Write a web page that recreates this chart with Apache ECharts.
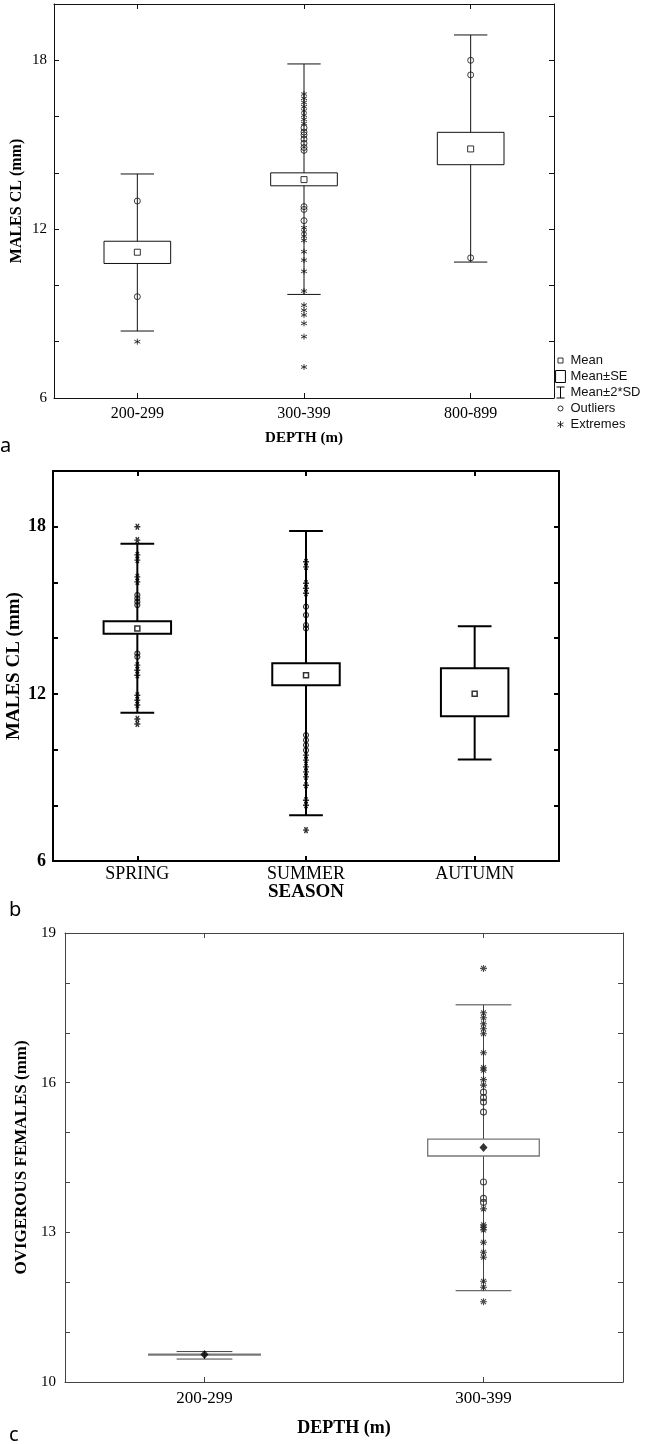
<!DOCTYPE html>
<html>
<head>
<meta charset="utf-8">
<title>Males CL by depth and season, ovigerous females by depth</title>
<script src="https://cdn.jsdelivr.net/npm/echarts@6/dist/echarts.min.js"></script>
<style>
  html, body { margin: 0; padding: 0; background: #fff; }
  #chart { width: 647px; height: 1444px; }
</style>
</head>
<body>
<div id="chart"></div>
<script>
// ---- a: males CL by depth
const depthCatsA = ['200-299', '300-399', '800-899'];
const meanA   = [11.18, 13.76, 14.85];
const seLowA  = [10.78, 13.54, 14.29];
const seHighA = [11.57, 14.00, 15.44];
const sdLowA  = [8.38, 9.68, 10.83];
const sdHighA = [13.96, 17.87, 18.90];
const outliersA = [
  ['200-299', 13.0], ['200-299', 9.6],
  ['300-399', 15.6], ['300-399', 15.45], ['300-399', 15.35], ['300-399', 15.2],
  ['300-399', 15.05], ['300-399', 14.9], ['300-399', 14.8],
  ['300-399', 12.8], ['300-399', 12.7], ['300-399', 12.3],
  ['800-899', 18.0], ['800-899', 17.48], ['800-899', 10.98]
];
const extremesA = [
  ['200-299', 8.0],
  ['300-399', 16.8], ['300-399', 16.65], ['300-399', 16.5], ['300-399', 16.35],
  ['300-399', 16.2], ['300-399', 16.05], ['300-399', 15.9], ['300-399', 15.75],
  ['300-399', 12.05], ['300-399', 11.9], ['300-399', 11.75], ['300-399', 11.6],
  ['300-399', 11.2], ['300-399', 10.9], ['300-399', 10.5], ['300-399', 9.8],
  ['300-399', 9.3], ['300-399', 9.12], ['300-399', 8.95], ['300-399', 8.65],
  ['300-399', 8.18], ['300-399', 7.1]
];

// ---- b: males CL by season
const seasonCats = ['SPRING', 'SUMMER', 'AUTUMN'];
const meanB   = [14.35, 12.67, 12.0];
const seLowB  = [14.16, 12.31, 11.2];
const seHighB = [14.61, 13.1, 12.92];
const sdLowB  = [11.32, 7.64, 9.64];
const sdHighB = [17.39, 17.85, 14.43];
const outliersB = [
  ['SPRING', 15.55], ['SPRING', 15.43], ['SPRING', 15.31], ['SPRING', 15.19],
  ['SPRING', 13.45], ['SPRING', 13.33],
  ['SUMMER', 15.13], ['SUMMER', 14.83], ['SUMMER', 14.47], ['SUMMER', 14.35],
  ['SUMMER', 10.52], ['SUMMER', 10.34], ['SUMMER', 10.16], ['SUMMER', 9.98]
];
const extremesB = [
  ['SPRING', 18.0], ['SPRING', 17.52], ['SPRING', 16.99], ['SPRING', 16.8],
  ['SPRING', 16.2], ['SPRING', 16.02], ['SPRING', 13.03], ['SPRING', 12.85],
  ['SPRING', 12.67], ['SPRING', 11.95], ['SPRING', 11.77], ['SPRING', 11.6],
  ['SPRING', 11.1], ['SPRING', 10.92],
  ['SUMMER', 16.74], ['SUMMER', 16.56], ['SUMMER', 15.97], ['SUMMER', 15.79],
  ['SUMMER', 15.61], ['SUMMER', 9.8], ['SUMMER', 9.62], ['SUMMER', 9.38],
  ['SUMMER', 9.2], ['SUMMER', 9.02], ['SUMMER', 8.72], ['SUMMER', 8.18],
  ['SUMMER', 8.0], ['SUMMER', 7.11]
];

// ---- c: ovigerous females by depth
const depthCatsC = ['200-299', '300-399'];
const meanC   = [10.55, 14.7];
const seLowC  = [10.54, 14.53];
const seHighC = [10.56, 14.87];
const sdLowC  = [10.46, 11.83];
const sdHighC = [10.61, 17.56];
const outliersC = [
  ['300-399', 15.81], ['300-399', 15.7], ['300-399', 15.61], ['300-399', 15.41],
  ['300-399', 14.01], ['300-399', 13.68], ['300-399', 13.6]
];
const extremesC = [
  ['300-399', 18.29], ['300-399', 17.4], ['300-399', 17.3], ['300-399', 17.18],
  ['300-399', 17.08], ['300-399', 16.98], ['300-399', 16.6], ['300-399', 16.3],
  ['300-399', 16.25], ['300-399', 16.06], ['300-399', 15.95],
  ['300-399', 13.47], ['300-399', 13.15], ['300-399', 13.1], ['300-399', 13.05],
  ['300-399', 12.8], ['300-399', 12.6], ['300-399', 12.5], ['300-399', 12.02],
  ['300-399', 11.9], ['300-399', 11.61]
];

const SERIF = 'Liberation Serif';
const STAR6 = 'path://M5,0 L5,10 M0.67,2.5 L9.33,7.5 M9.33,2.5 L0.67,7.5';
const STAR6H = 'path://M0,5 L10,5 M2.5,0.67 L7.5,9.33 M7.5,0.67 L2.5,9.33';
const STAR8 = 'path://M5,0 L5,10 M0,5 L10,5 M1.5,1.5 L8.5,8.5 M8.5,1.5 L1.5,8.5';

const panels = [
  {
    cats: depthCatsA, mean: meanA, seLow: seLowA, seHigh: seHighA, sdLow: sdLowA, sdHigh: sdHighA,
    outliers: outliersA, extremes: extremesA, names: ['Mean', 'Mean±SE', 'Mean±2*SD', 'Outliers', 'Extremes'],
    min: 6, max: 20, interval: 2, labelStep: 6,
    color: '#111', boxColor: '#111', ptColor: '#111', lw: 1, boxLw: 1, cap: 0.2,
    tickFont: 15, tickBold: 'normal', tickMargin: 7,
    catFont: 16, catMargin: 8,
    xName: 'DEPTH (m)', xNameFont: 15, xNameGap: 33,
    yName: 'MALES CL (mm)', yNameFont: 16, yNameGap: 29,
    meanSym: { symbol: 'rect', size: 6, color: '#fff', border: 1 },
    outSize: 6, outLw: 1, extSym: STAR6, extSize: 6, extLw: 1
  },
  {
    cats: seasonCats, mean: meanB, seLow: seLowB, seHigh: seHighB, sdLow: sdLowB, sdHigh: sdHighB,
    outliers: outliersB, extremes: extremesB, names: ['b mean', 'b se', 'b sd', 'b out', 'b ext'],
    min: 6, max: 20, interval: 2, labelStep: 6,
    color: '#000', boxColor: '#000', ptColor: '#000', lw: 2, boxLw: 2, cap: 0.2,
    tickFont: 18, tickBold: 'bold', tickMargin: 7,
    catFont: 18, catMargin: 4,
    xName: 'SEASON', xNameFont: 19, xNameGap: 22,
    yName: 'MALES CL (mm)', yNameFont: 19, yNameGap: 29,
    meanSym: { symbol: 'rect', size: 5, color: '#fff', border: 1.5 },
    outSize: 5, outLw: 1.1, extSym: STAR6H, extSize: 6, extLw: 1.4
  },
  {
    cats: depthCatsC, mean: meanC, seLow: seLowC, seHigh: seHighC, sdLow: sdLowC, sdHigh: sdHighC,
    outliers: outliersC, extremes: extremesC, names: ['c mean', 'c se', 'c sd', 'c out', 'c ext'],
    min: 10, max: 19, interval: 1, labelStep: 3,
    color: '#444', boxColor: '#777', ptColor: '#222', lw: 1, boxLw: 1.3, cap: 0.2,
    tickFont: 15, tickBold: 'normal', tickMargin: 9,
    catFont: 17, catMargin: 8,
    xName: 'DEPTH (m)', xNameFont: 18, xNameGap: 37,
    yName: 'OVIGEROUS FEMALES (mm)', yNameFont: 17, yNameGap: 35,
    meanSym: { symbol: 'diamond', size: [8, 9], color: '#000', border: 0 },
    outSize: 6, outLw: 1.1, extSym: STAR8, extSize: 7, extLw: 1.1
  }
];

const grids = [
  { left: 54, top: 4, width: 500, height: 394 },
  { left: 53, top: 471, width: 506, height: 390 },
  { left: 65, top: 933, width: 558, height: 449 }
];

function whiskerItem(p) {
  return function (params, api) {
    const i = api.value(0);
    const lo = api.coord([i, api.value(1)]);
    const hi = api.coord([i, api.value(2)]);
    const half = api.size([1, 0])[0] * p.cap / 2;
    const st = { stroke: p.color, lineWidth: p.lw };
    return {
      type: 'group',
      children: [
        { type: 'line', shape: { x1: lo[0], y1: lo[1], x2: hi[0], y2: hi[1] }, style: st },
        { type: 'line', shape: { x1: lo[0] - half, y1: lo[1], x2: lo[0] + half, y2: lo[1] }, style: st },
        { type: 'line', shape: { x1: hi[0] - half, y1: hi[1], x2: hi[0] + half, y2: hi[1] }, style: st }
      ]
    };
  };
}

function boxItem(p) {
  return function (params, api) {
    const i = api.value(0);
    const lo = api.coord([i, api.value(1)]);
    const hi = api.coord([i, api.value(2)]);
    const w = api.size([1, 0])[0] * 0.4;
    return {
      type: 'rect',
      shape: { x: lo[0] - w / 2, y: hi[1], width: w, height: lo[1] - hi[1] },
      style: { fill: '#fff', stroke: p.boxColor, lineWidth: p.boxLw }
    };
  };
}

const xAxis = [], yAxis = [], series = [];

panels.forEach(function (p, g) {
  const line = { color: p.color, width: p.lw };
  const tick = { show: true, inside: true, alignWithLabel: true, length: 5, lineStyle: line };
  xAxis.push({
    type: 'category', gridIndex: g, data: p.cats, position: 'bottom',
    axisLine: { show: true, onZero: false, lineStyle: line },
    axisTick: tick,
    axisLabel: { fontFamily: SERIF, fontSize: p.catFont, color: '#000', margin: p.catMargin },
    splitLine: { show: false },
    name: p.xName, nameLocation: 'middle', nameGap: p.xNameGap, nameMoveOverlap: false,
    nameTextStyle: { fontFamily: SERIF, fontWeight: 'bold', fontSize: p.xNameFont, color: '#000' }
  });
  xAxis.push({
    type: 'category', gridIndex: g, data: p.cats, position: 'top',
    axisLine: { show: true, onZero: false, lineStyle: line },
    axisTick: tick, axisLabel: { show: false }, splitLine: { show: false }
  });
  const ytick = { show: true, inside: true, length: 5, lineStyle: line };
  yAxis.push({
    type: 'value', gridIndex: g, position: 'left',
    min: p.min, max: p.max, interval: p.interval,
    axisLine: { show: true, lineStyle: line },
    axisTick: ytick,
    axisLabel: {
      fontFamily: SERIF, fontSize: p.tickFont, fontWeight: p.tickBold, color: '#000', margin: p.tickMargin,
      formatter: function (v) { return (v - p.min) % p.labelStep === 0 ? String(v) : ''; }
    },
    splitLine: { show: false },
    name: p.yName, nameLocation: 'middle', nameGap: p.yNameGap, nameMoveOverlap: false,
    nameTextStyle: { fontFamily: SERIF, fontWeight: 'bold', fontSize: p.yNameFont, color: '#000' }
  });
  yAxis.push({
    type: 'value', gridIndex: g, position: 'right',
    min: p.min, max: p.max, interval: p.interval,
    axisLine: { show: true, lineStyle: line },
    axisTick: ytick, axisLabel: { show: false }, splitLine: { show: false }
  });

  const xi = g * 2, yi = g * 2;
  const n = p.names;
  series.push({
    name: n[2], type: 'custom', xAxisIndex: xi, yAxisIndex: yi, z: 2, silent: true,
    renderItem: whiskerItem(p),
    data: p.cats.map(function (c, i) { return [i, p.sdLow[i], p.sdHigh[i]]; })
  });
  series.push({
    name: n[3], type: 'scatter', xAxisIndex: xi, yAxisIndex: yi, z: 3, silent: true,
    symbol: 'circle', symbolSize: p.outSize,
    itemStyle: { color: 'transparent', borderColor: p.ptColor, borderWidth: p.outLw },
    data: p.outliers
  });
  series.push({
    name: n[4], type: 'scatter', xAxisIndex: xi, yAxisIndex: yi, z: 3, silent: true,
    symbol: p.extSym, symbolSize: p.extSize,
    itemStyle: { color: 'transparent', borderColor: p.ptColor, borderWidth: p.extLw },
    data: p.extremes
  });
  series.push({
    name: n[1], type: 'custom', xAxisIndex: xi, yAxisIndex: yi, z: 4, silent: true,
    renderItem: boxItem(p),
    data: p.cats.map(function (c, i) { return [i, p.seLow[i], p.seHigh[i]]; })
  });
  series.push({
    name: n[0], type: 'scatter', xAxisIndex: xi, yAxisIndex: yi, z: 5, silent: true,
    symbol: p.meanSym.symbol, symbolSize: p.meanSym.size,
    itemStyle: { color: p.meanSym.color, borderColor: '#000', borderWidth: p.meanSym.border },
    data: p.cats.map(function (c, i) { return [c, p.mean[i]]; })
  });
});

const legendStroke = { color: 'transparent', borderColor: '#000', borderWidth: 1 };

const option = {
  animation: false,
  backgroundColor: '#fff',
  grid: grids.map(function (g) { return Object.assign({ outerBoundsMode: 'none' }, g); }),
  xAxis: xAxis,
  yAxis: yAxis,
  legend: {
    left: 555, top: 354, orient: 'vertical',
    itemWidth: 10, itemHeight: 12, itemGap: 3, padding: 0,
    selectedMode: false,
    textStyle: { fontFamily: 'Liberation Sans', fontSize: 13, color: '#111' },
    data: [
      { name: 'Mean', icon: 'path://M0,0 M10,12 M2.5,3.5 L7.5,3.5 L7.5,8.5 L2.5,8.5 Z',
        itemStyle: { color: '#fff', borderColor: '#000', borderWidth: 1 } },
      { name: 'Mean±SE', icon: 'path://M0.5,0.5 L9.5,0.5 L9.5,11.5 L0.5,11.5 Z',
        itemStyle: { color: '#fff', borderColor: '#000', borderWidth: 1 } },
      { name: 'Mean±2*SD', icon: 'path://M0,0 M10,12 M1,0.5 L9,0.5 M5,0.5 L5,11.5 M1,11.5 L9,11.5',
        itemStyle: legendStroke },
      { name: 'Outliers', icon: 'path://M0,0 M10,12 M7.5,6 A2.5,2.5 0 1 1 2.5,6 A2.5,2.5 0 1 1 7.5,6 Z',
        itemStyle: legendStroke },
      { name: 'Extremes', icon: 'path://M0,0 M10,12 M5,2.5 L5,9.5 M2,4.25 L8,7.75 M8,4.25 L2,7.75',
        itemStyle: legendStroke }
    ]
  },
  graphic: [
    { type: 'text', left: 0, top: 436, style: { text: 'a', font: '20px "Noto Sans"', fill: '#000' } },
    { type: 'text', left: 9, top: 900, style: { text: 'b', font: '20px "Noto Sans"', fill: '#000' } },
    { type: 'text', left: 9, top: 1425, style: { text: 'c', font: '20px "Noto Sans"', fill: '#000' } }
  ],
  series: series
};

const chart = echarts.init(document.getElementById('chart'), null, { renderer: 'canvas' });
chart.setOption(option);
</script>
</body>
</html>
